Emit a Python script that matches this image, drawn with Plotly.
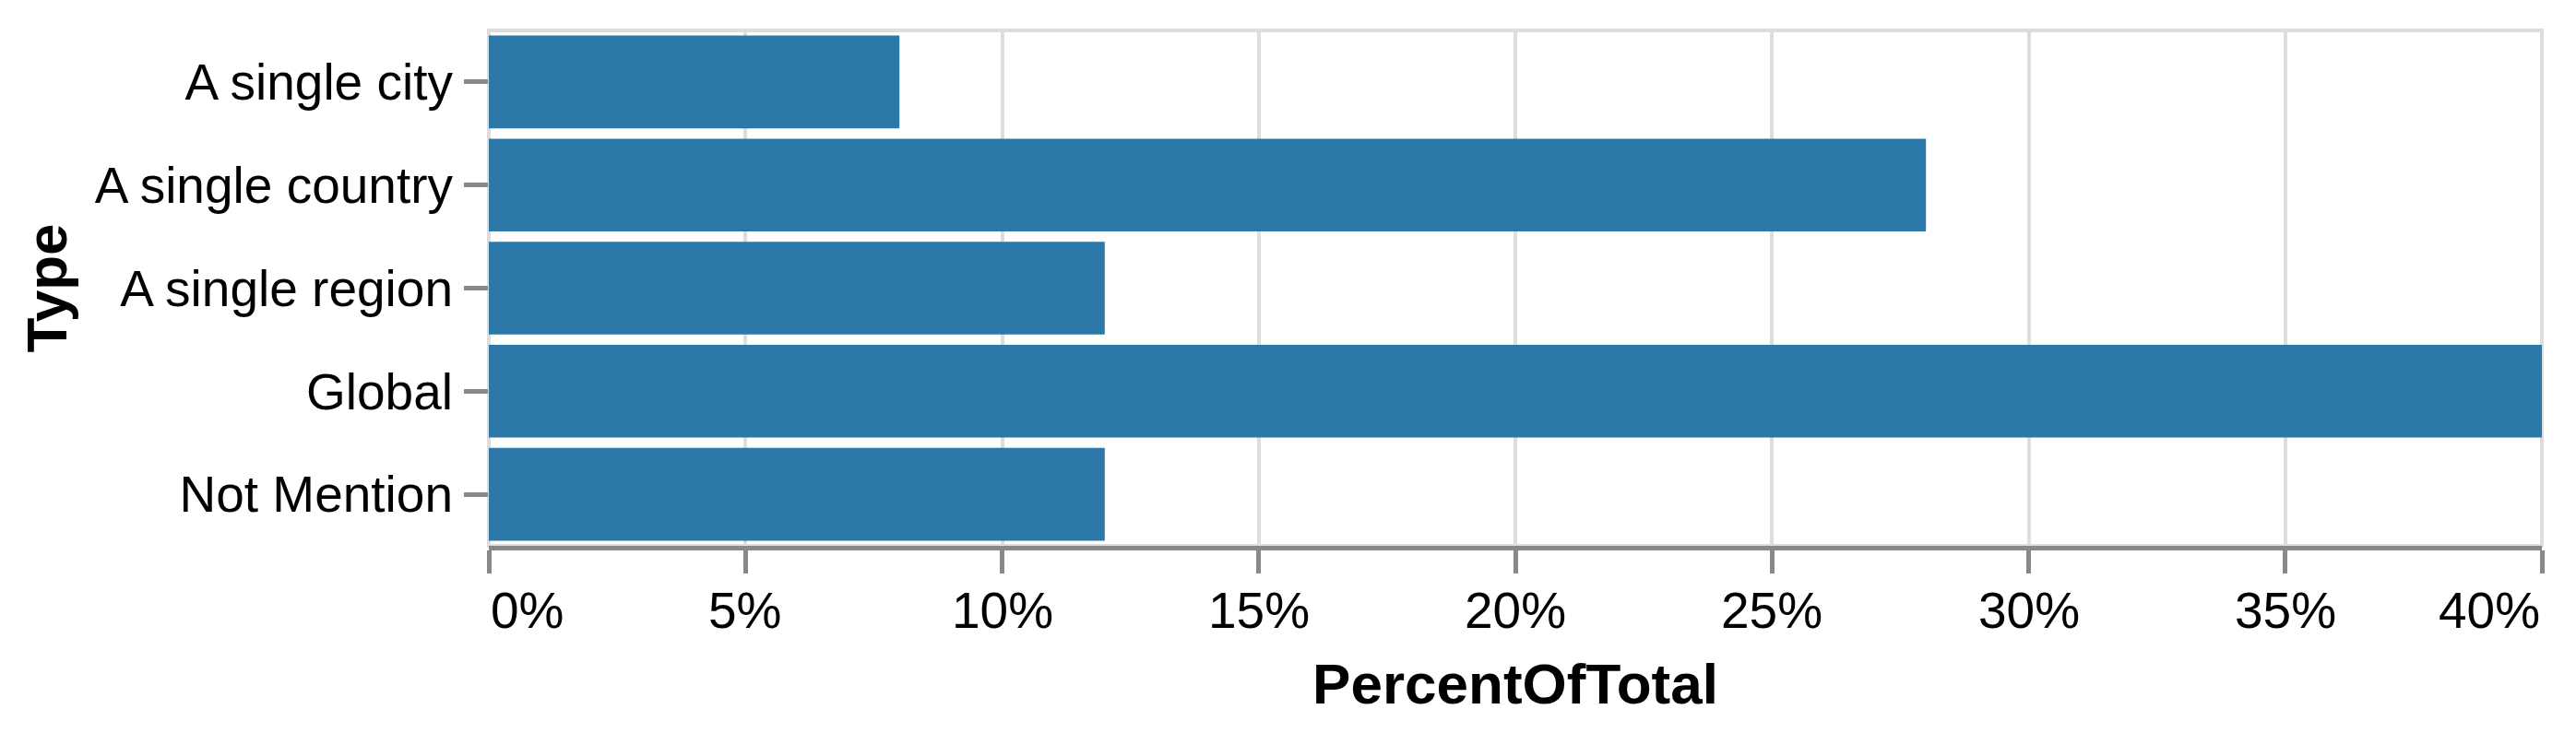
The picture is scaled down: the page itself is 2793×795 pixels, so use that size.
import plotly.graph_objects as go

categories = ["A single city", "A single country", "A single region", "Global", "Not Mention"]
percent_of_total = [0.08, 0.28, 0.12, 0.40, 0.12]
tick_values = [0, 0.05, 0.10, 0.15, 0.20, 0.25, 0.30, 0.35, 0.40]
tick_labels = ["0%", "5%", "10%", "15%", "20%", "25%", "30%", "35%", "40%"]

BAR_COLOR = "#2b78a9"
FONT = "Liberation Sans, Arial, sans-serif"
LABEL_SIZE = 55
TITLE_SIZE = 62
BODY = 8  # default page body margin offset compensation

fig = go.Figure(
    go.Bar(
        x=percent_of_total,
        y=categories,
        orientation="h",
        marker=dict(color=BAR_COLOR, line=dict(width=0)),
    )
)

# x tick labels as flush-aligned text (first left, last right, others centred)
tick_annotations = []
for i, (v, t) in enumerate(zip(tick_values, tick_labels)):
    anchor = "left" if i == 0 else ("right" if i == len(tick_values) - 1 else "center")
    tick_annotations.append(
        dict(x=v, y=0, xref="x", yref="paper", text=t, xanchor=anchor, yanchor="top",
             yshift=-37, showarrow=False,
             font=dict(family=FONT, size=LABEL_SIZE, color="#000"))
    )

fig.update_layout(
    width=2793,
    height=795,
    margin=dict(l=530 - BODY, r=37 + BODY, t=33 - BODY, b=203 + BODY, autoexpand=False),
    paper_bgcolor="white",
    plot_bgcolor="white",
    bargap=0.1,
    showlegend=False,
    font=dict(family=FONT, size=LABEL_SIZE, color="#000"),
    xaxis=dict(
        range=[0, 0.40],
        tickvals=tick_values,
        ticktext=[""] * len(tick_values),
        showgrid=True,
        gridcolor="#dddddd",
        gridwidth=4,
        zeroline=False,
        showline=True,
        linecolor="#888888",
        linewidth=5,
        ticks="outside",
        ticklen=25,
        tickwidth=5,
        tickcolor="#888888",
        tickfont=dict(family=FONT, size=LABEL_SIZE, color="#000"),
        title=dict(text="<b>PercentOfTotal</b>", font=dict(family=FONT, size=TITLE_SIZE, color="#000"), standoff=89),
        fixedrange=True,
    ),
    yaxis=dict(
        categoryorder="array",
        categoryarray=categories,
        autorange="reversed",
        showgrid=False,
        zeroline=False,
        showline=False,
        ticks="outside",
        ticklen=26,
        tickwidth=5,
        tickcolor="#888888",
        tickfont=dict(family=FONT, size=LABEL_SIZE, color="#000"),
        ticklabelstandoff=1,
        title=dict(text="<b>Type</b>", font=dict(family=FONT, size=TITLE_SIZE, color="#000"), standoff=10),
        fixedrange=True,
    ),
    shapes=[
        dict(
            type="rect", xref="paper", yref="paper", x0=0, x1=1, y0=0, y1=1,
            line=dict(color="#dddddd", width=4), fillcolor="rgba(0,0,0,0)", layer="below",
        )
    ],
    annotations=tick_annotations,
)

fig.write_html("out.html")
